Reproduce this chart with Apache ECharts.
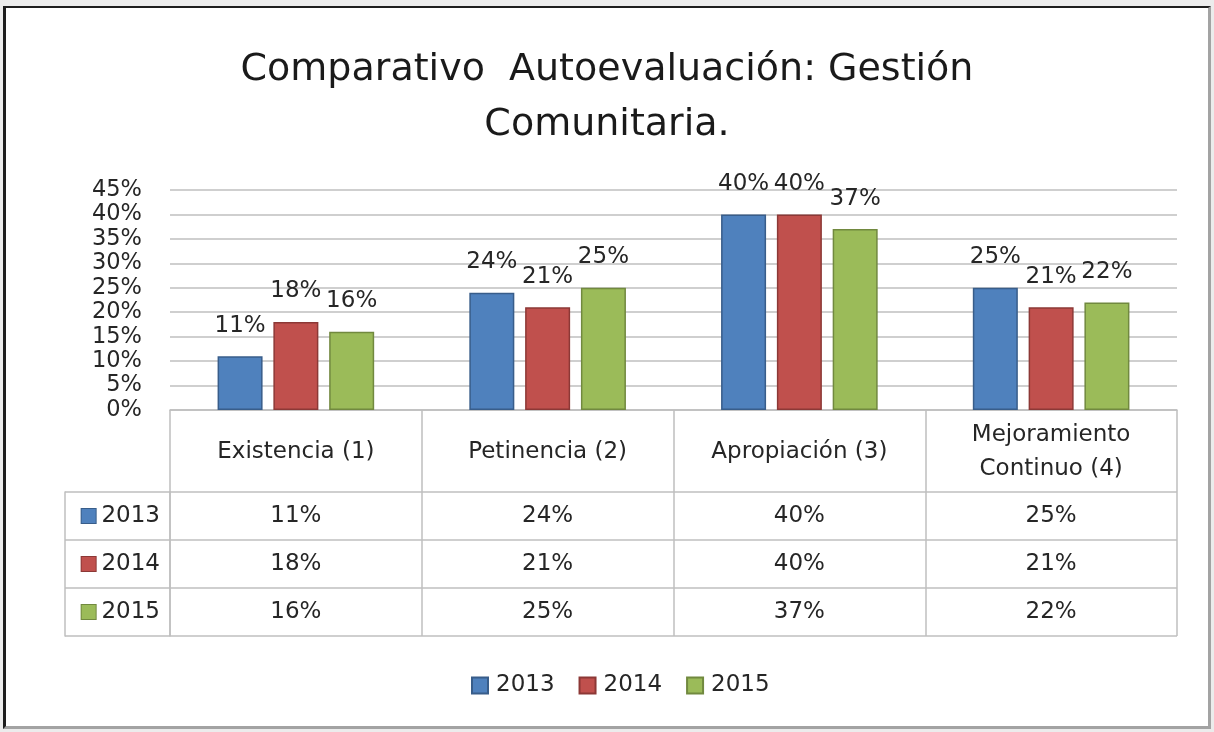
<!DOCTYPE html>
<html>
<head>
<meta charset="utf-8">
<title>Comparativo Autoevaluación</title>
<script src="https://cdn.jsdelivr.net/npm/echarts@6.0.0/dist/echarts.min.js"></script>
<style>
  html, body { margin: 0; padding: 0; background: #ececec; }
  #marco {
    position: absolute; left: 3px; top: 6px; width: 1208px; height: 723px;
    box-sizing: border-box; background: #fff;
    border-left: 3px solid #1e1e1e; border-top: 2px solid #1e1e1e;
    border-right: 3px solid #a3a3a3; border-bottom: 3px solid #a3a3a3;
  }
  #main { position: absolute; left: 0; top: 0; width: 1214px; height: 732px; }
</style>
</head>
<body>
<div id="marco"></div>
<div id="main"></div>
<script>
// datos
const categorias = ['Existencia (1)', 'Petinencia (2)', 'Apropiación (3)', 'Mejoramiento\nContinuo (4)'];
const anios = ['2013', '2014', '2015'];
const v2013 = [11, 24, 40, 25];
const v2014 = [18, 21, 40, 21];
const v2015 = [16, 25, 37, 22];

const colores = ['#4F81BD', '#C0504D', '#9BBB59'];
const bordes = ['#385D8A', '#8C3836', '#71893F'];
const valores = [v2013, v2014, v2015];

const fuente = 'DejaVu Sans';
const texto = '#262626';
const linea = { color: '#BFBFBF', width: 1.5 };

// celdas de la tabla de datos
let celdas = [];
anios.forEach((a, j) => {
  categorias.forEach((c, i) => {
    celdas.push([i, j, valores[j][i]]);
  });
});

let myChart = echarts.init(document.getElementById('main'));

let barras = anios.map((a, j) => ({
  name: a,
  type: 'bar',
  xAxisIndex: 0,
  yAxisIndex: 0,
  data: valores[j],
  barWidth: 45,
  barGap: '24%',
  itemStyle: { color: colores[j], borderColor: bordes[j], borderWidth: 1.5 },
  label: {
    show: true,
    position: 'top',
    distance: 19,
    formatter: '{c}%',
    fontFamily: fuente,
    fontSize: 23,
    color: texto
  }
}));

let option = {
  animation: false,
  textStyle: { fontFamily: fuente },
  title: {
    text: 'Comparativo  Autoevaluación: Gestión\nComunitaria.',
    left: 'center',
    top: 43,
    padding: 0,
    textStyle: { fontFamily: fuente, fontSize: 38, lineHeight: 55, fontWeight: 'normal', color: '#1a1a1a' }
  },
  legend: {
    data: anios,
    left: 466,
    top: 669,
    icon: 'rect',
    itemWidth: 16,
    itemHeight: 16,
    itemGap: 24,
    textStyle: { fontFamily: fuente, fontSize: 23, color: texto, padding: [0, 0, 0, 3] }
  },
  grid: [
    { left: 170, right: 37, top: 190, bottom: 322 },
    { left: 170, right: 37, top: 492, height: 144 }
  ],
  xAxis: [
    {
      type: 'category',
      gridIndex: 0,
      data: categorias,
      axisLine: { lineStyle: linea },
      axisTick: { show: true, length: 82, interval: 0, lineStyle: linea },
      axisLabel: {
        interval: 0,
        margin: 42,
        verticalAlign: 'middle',
        fontFamily: fuente,
        fontSize: 23,
        lineHeight: 34,
        color: texto
      }
    },
    {
      type: 'category',
      gridIndex: 1,
      data: categorias,
      axisLine: { show: false },
      axisTick: { show: false },
      axisLabel: { show: false },
      splitLine: { show: true, interval: 0, lineStyle: linea }
    }
  ],
  yAxis: [
    {
      type: 'value',
      gridIndex: 0,
      min: 0,
      max: 45,
      interval: 5,
      axisLine: { show: false },
      axisTick: { show: false },
      splitLine: { lineStyle: linea },
      axisLabel: { formatter: '{value}%', margin: 28, fontFamily: fuente, fontSize: 22.5, color: texto }
    },
    {
      type: 'category',
      gridIndex: 1,
      data: anios,
      inverse: true,
      axisLine: { show: true, lineStyle: linea },
      axisTick: { show: true, length: 105, interval: 0, lineStyle: linea },
      splitLine: { show: true, interval: 0, lineStyle: linea },
      axisLabel: {
        margin: 10,
        formatter: (v, i) => '{c' + i + '|} {t|' + v + '}',
        rich: {
          c0: { backgroundColor: colores[0], borderColor: bordes[0], borderWidth: 1, width: 14, height: 14 },
          c1: { backgroundColor: colores[1], borderColor: bordes[1], borderWidth: 1, width: 14, height: 14 },
          c2: { backgroundColor: colores[2], borderColor: bordes[2], borderWidth: 1, width: 14, height: 14 },
          t: { fontFamily: fuente, fontSize: 23, color: texto, padding: [0, 0, 0, 2] }
        }
      }
    },
    {
      type: 'category',
      gridIndex: 1,
      data: anios,
      position: 'left',
      offset: 105,
      axisLine: { show: true, lineStyle: linea },
      axisTick: { show: false },
      axisLabel: { show: false }
    }
  ],
  series: barras.concat([
    {
      name: 'tabla',
      type: 'scatter',
      xAxisIndex: 1,
      yAxisIndex: 1,
      data: celdas,
      symbolSize: 1,
      silent: true,
      itemStyle: { color: 'rgba(0,0,0,0)', opacity: 1 },
      label: {
        show: true,
        position: 'inside',
        formatter: p => p.value[2] + '%',
        fontFamily: fuente,
        fontSize: 23,
        color: texto,
        opacity: 1
      }
    }
  ])
};

myChart.setOption(option);
</script>
</body>
</html>
